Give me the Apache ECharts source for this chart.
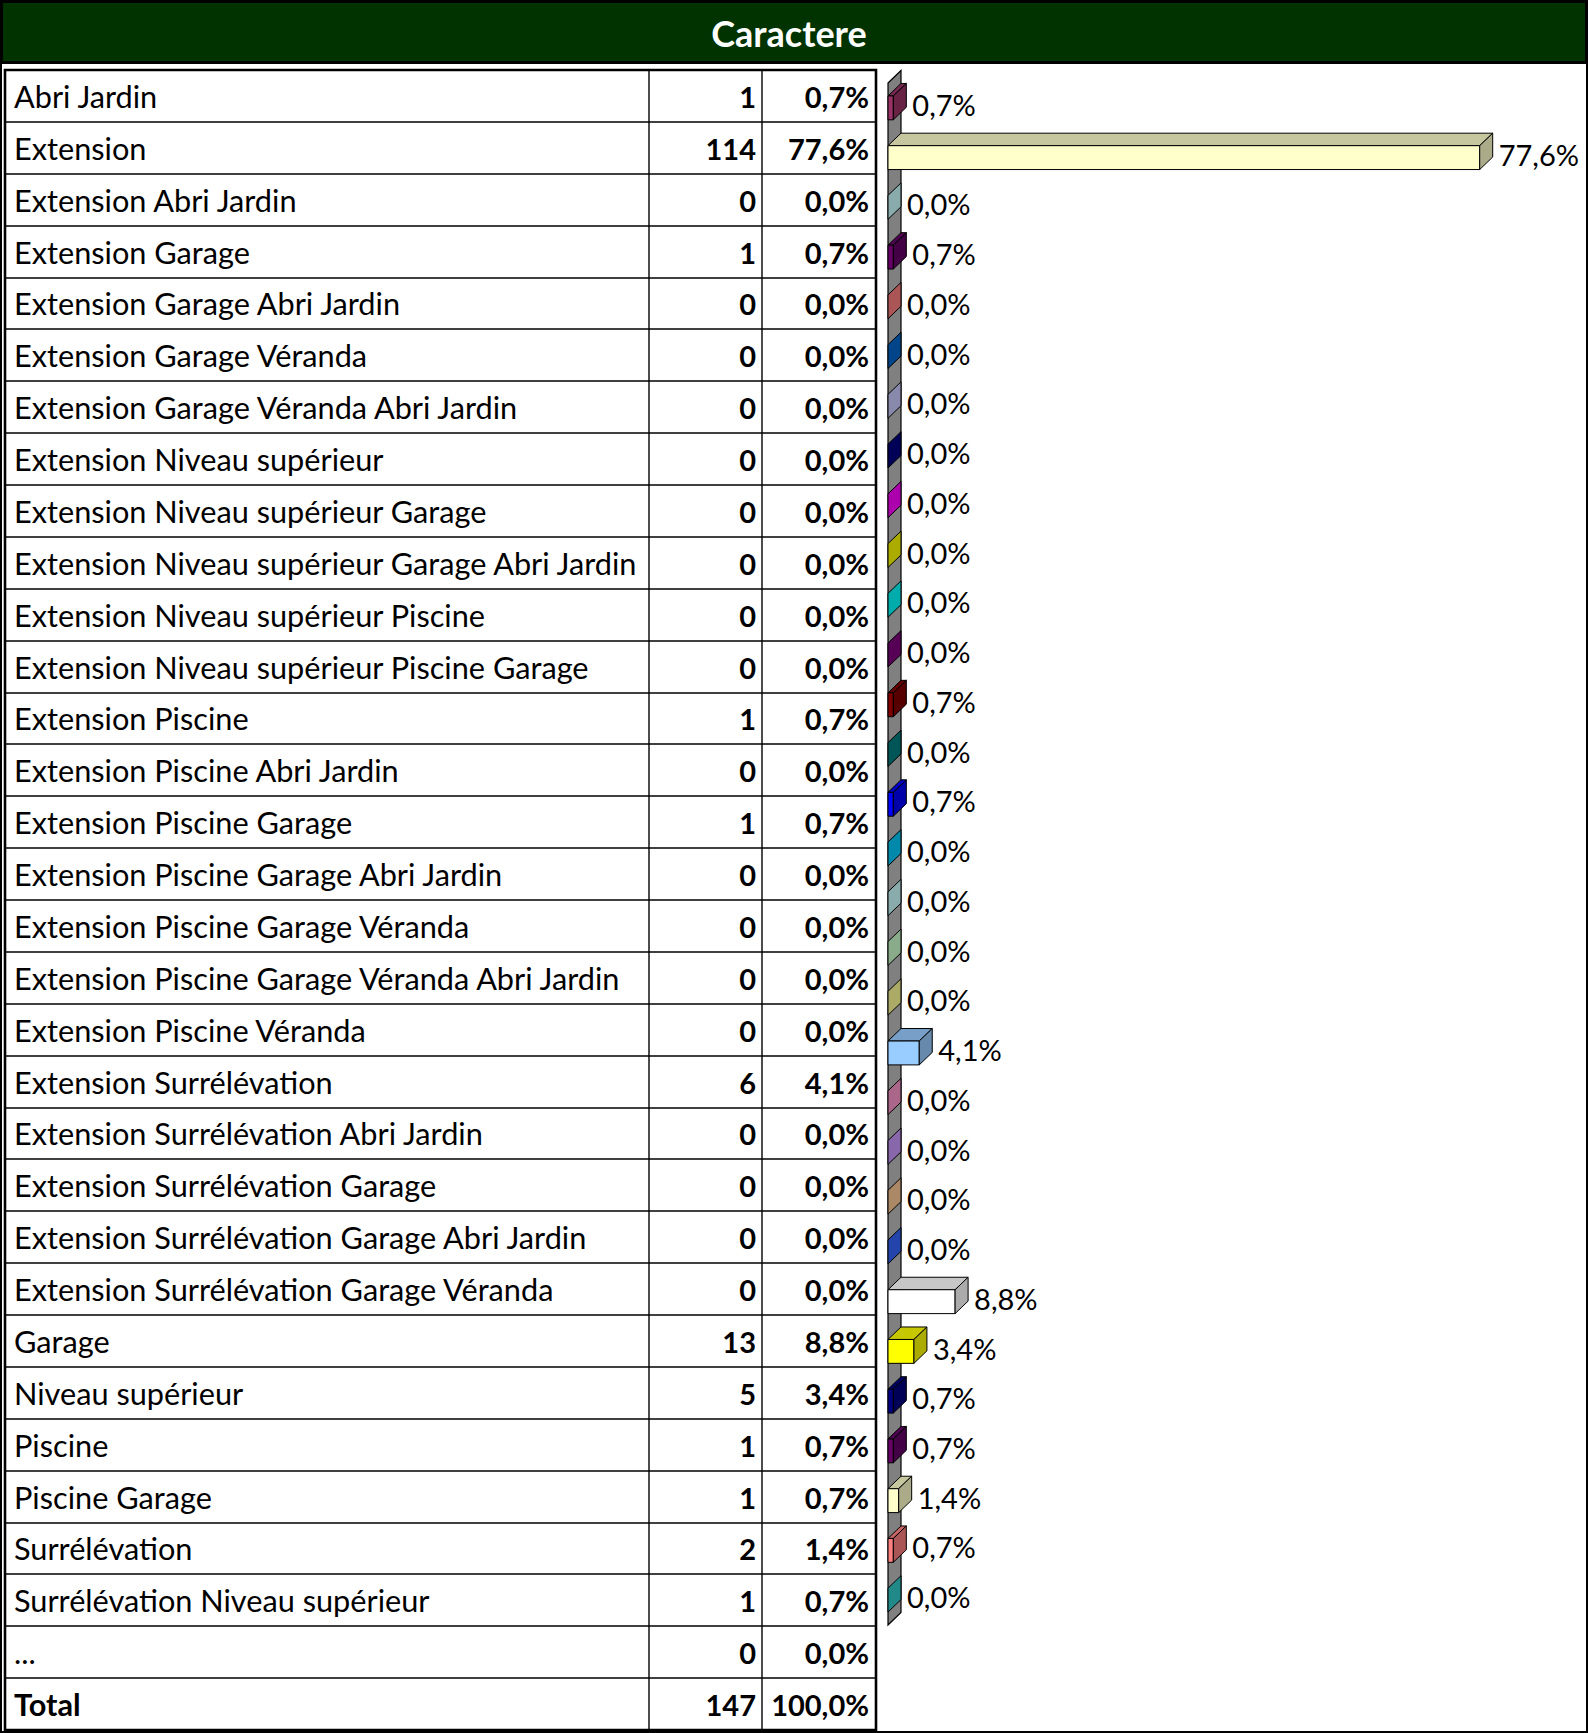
<!DOCTYPE html>
<html>
<head>
<meta charset="utf-8">
<script src="https://cdn.jsdelivr.net/npm/echarts@6/dist/echarts.min.js"></script>
<style>
html,body{margin:0;padding:0;background:#fff;}
#chart{width:1588px;height:1733px;}
</style>
</head>
<body>
<div id="chart"></div>
<script>
const titleText = 'Caractere';
const categories = [
  'Abri Jardin','Extension','Extension Abri Jardin','Extension Garage','Extension Garage Abri Jardin',
  'Extension Garage Véranda','Extension Garage Véranda Abri Jardin','Extension Niveau supérieur',
  'Extension Niveau supérieur Garage','Extension Niveau supérieur Garage Abri Jardin',
  'Extension Niveau supérieur Piscine','Extension Niveau supérieur Piscine Garage','Extension Piscine',
  'Extension Piscine Abri Jardin','Extension Piscine Garage','Extension Piscine Garage Abri Jardin',
  'Extension Piscine Garage Véranda','Extension Piscine Garage Véranda Abri Jardin','Extension Piscine Véranda',
  'Extension Surrélévation','Extension Surrélévation Abri Jardin','Extension Surrélévation Garage',
  'Extension Surrélévation Garage Abri Jardin','Extension Surrélévation Garage Véranda','Garage',
  'Niveau supérieur','Piscine','Piscine Garage','Surrélévation','Surrélévation Niveau supérieur','...'
];
const counts = [1,114,0,1,0,0,0,0,0,0,0,0,1,0,1,0,0,0,0,6,0,0,0,0,13,5,1,1,2,1,0];
const pcts = [0.7,77.6,0.0,0.7,0.0,0.0,0.0,0.0,0.0,0.0,0.0,0.0,0.7,0.0,0.7,0.0,0.0,0.0,0.0,4.1,0.0,0.0,0.0,0.0,8.8,3.4,0.7,0.7,1.4,0.7,0.0];
const totalLabel = 'Total';
const totalCount = 147;
const totalPct = 100.0;
const barColors = [
  '#993366','#FFFFCC','#CCFFFF','#660066','#FF8080','#0066CC','#CCCCFF','#000080',
  '#FF00FF','#FFFF00','#00FFFF','#800080','#800000','#008080','#0000FF','#00CCFF',
  '#CCFFFF','#CCFFCC','#FFFF99','#99CCFF','#FF99CC','#CC99FF','#FFCC99','#3366FF',
  '#FFFFFF','#FFFF00','#000080','#660066','#FFFFCC','#FF8080','#33CCCC'
];

function fmtPct(v){ return v.toFixed(1).replace('.', ',') + '%'; }
function shade(hex, f){
  const n = parseInt(hex.slice(1), 16);
  const r = Math.round(((n>>16)&255)*f), g = Math.round(((n>>8)&255)*f), b = Math.round((n&255)*f);
  return 'rgb(' + r + ',' + g + ',' + b + ')';
}

const FONT = 'Lato, "Open Sans", sans-serif';
const DX = 13, DY = 12.5;

// ---- table (graphic) ----
const W = 1588, H = 1733;
const tLeft = 5, tRight = 876, tTop = 70, tBottom = 1730;
const col1 = 649, col2 = 762;
const nRows = categories.length + 1;
const rowH = (tBottom - tTop) / nRows;
const elements = [];
elements.push({type:'rect', shape:{x:0, y:0, width:W, height:H}, style:{fill:'#fff'}, z:-10});
elements.push({type:'rect', shape:{x:1.5, y:1.5, width:W-3, height:61}, style:{fill:'#003300', stroke:'#000', lineWidth:3}, z:1});
elements.push({type:'text', style:{text:titleText, x:789, y:33, font:'bold 36px ' + FONT, fill:'#fff', align:'center', verticalAlign:'middle'}, z:2});
elements.push({type:'rect', shape:{x:1, y:1, width:W-2, height:H-2}, style:{fill:'none', stroke:'#000', lineWidth:2}, z:1});
for (let r = 1; r < nRows; r++) {
  const y = Math.round(tTop + r*rowH);
  elements.push({type:'line', shape:{x1:tLeft, y1:y, x2:tRight, y2:y}, style:{stroke:'#000', lineWidth:1.6}, z:1});
}
[col1, col2].forEach(function(x){
  elements.push({type:'line', shape:{x1:x, y1:tTop, x2:x, y2:tBottom}, style:{stroke:'#000', lineWidth:1.4}, z:1});
});
elements.push({type:'rect', shape:{x:tLeft, y:tTop, width:tRight-tLeft, height:tBottom-tTop}, style:{fill:'none', stroke:'#000', lineWidth:2.6}, z:1});
const rowsLabels = categories.concat([totalLabel]);
const rowsCounts = counts.concat([totalCount]);
const rowsPcts = pcts.concat([totalPct]);
rowsLabels.forEach(function(lab, r){
  const cy = tTop + (r + 0.5)*rowH + 0.5;
  const isTotal = (r === nRows - 1);
  elements.push({type:'text', style:{text:lab, x:14, y:cy, font:(isTotal ? 'bold ' : '') + '30.7px ' + FONT, fill:'#000', align:'left', verticalAlign:'middle'}, z:2});
  elements.push({type:'text', style:{text:String(rowsCounts[r]), x:756, y:cy, font:'bold 29px ' + FONT, fill:'#000', align:'right', verticalAlign:'middle'}, z:2});
  elements.push({type:'text', style:{text:fmtPct(rowsPcts[r]), x:869, y:cy, font:'bold 29px ' + FONT, fill:'#000', align:'right', verticalAlign:'middle'}, z:2});
});

// ---- chart ----
function renderWall(params, api){
  const n = categories.length;
  const band = api.size([0, 1])[1];
  const c0 = api.coord([0, 0]);
  const cN = api.coord([0, n - 1]);
  const x0 = c0[0];
  const yT = c0[1] - band/2, yB = cN[1] + band/2;
  return {
    type:'polygon',
    shape:{points:[[x0, yT],[x0+DX, yT-DY],[x0+DX, yB-DY],[x0, yB]]},
    style:{fill:'#808080', stroke:'#000', lineWidth:1.2}
  };
}
function renderBar(params, api){
  const i = api.value(1);
  const v = api.value(0);
  const c0 = api.coord([0, i]);
  const c1 = api.coord([v, i]);
  const band = api.size([0, 1])[1];
  const h = band * 0.48;
  const x0 = c0[0], x1 = c1[0];
  const yt = c0[1] - h/2, yb = c0[1] + h/2;
  const col = barColors[i % barColors.length];
  const children = [];
  if (x1 - x0 > 0.1) {
    children.push({type:'polygon', shape:{points:[[x0,yt],[x1,yt],[x1+DX,yt-DY],[x0+DX,yt-DY]]},
      style:{fill:shade(col,0.78), stroke:'#000', lineWidth:1}});
    children.push({type:'rect', shape:{x:x0, y:yt, width:x1-x0, height:h},
      style:{fill:col, stroke:'#000', lineWidth:1}});
  }
  children.push({type:'polygon', shape:{points:[[x1,yt],[x1+DX,yt-DY],[x1+DX,yb-DY],[x1,yb]]},
    style:{fill:shade(col,0.67), stroke:'#000', lineWidth:1}});
  children.push({type:'text', style:{text:fmtPct(v), x:x1+DX+6, y:c0[1]-3.4, font:'29px ' + FONT, fill:'#000', align:'left', verticalAlign:'middle'}});
  return {type:'group', children:children};
}

const chart = echarts.init(document.getElementById('chart'), null, {renderer:'svg', width:1588, height:1733});
chart.setOption({
  animation:false,
  backgroundColor:'#fff',
  graphic:{elements:elements},
  grid:{left:888, top:83, width:610, height:1542, containLabel:false},
  xAxis:{type:'value', min:0, max:80, show:false},
  yAxis:{type:'category', data:categories, inverse:true, show:false},
  series:[
    {type:'custom', z:3, data:[[0,0]], encode:{x:0, y:1}, renderItem:renderWall, silent:true, clip:false},
    {type:'custom', z:4, data:pcts.map(function(v,i){return [v,i];}), encode:{x:0, y:1}, renderItem:renderBar, clip:false}
  ]
});
</script>
</body>
</html>
